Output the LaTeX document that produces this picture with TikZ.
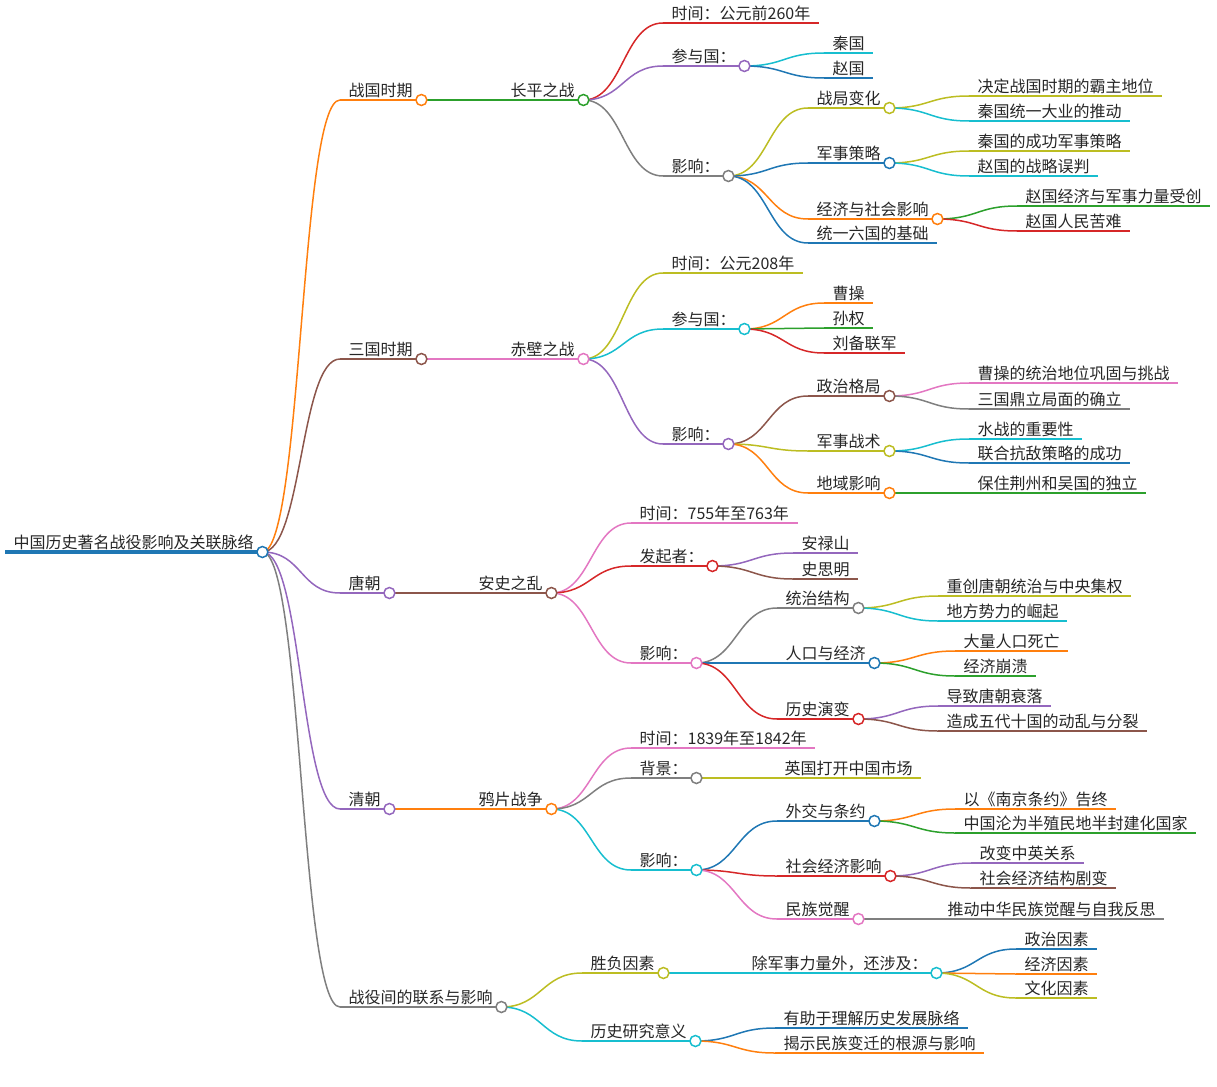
\documentclass[tikz,border=0pt]{standalone}
\usepackage{fontspec}
\newfontfamily\cjk{Noto Sans CJK SC}
\usepackage{tikz}
\definecolor{mblue}{HTML}{1F77B4}
\definecolor{morange}{HTML}{FF7F0E}
\definecolor{mgreen}{HTML}{2CA02C}
\definecolor{mred}{HTML}{D62728}
\definecolor{mpurple}{HTML}{9467BD}
\definecolor{mbrown}{HTML}{8C564B}
\definecolor{mpink}{HTML}{E377C2}
\definecolor{mgray}{HTML}{7F7F7F}
\definecolor{molive}{HTML}{BCBD22}
\definecolor{mcyan}{HTML}{17BECF}
\tikzset{topic/.style={anchor=south west,inner xsep=8.5pt,inner ysep=1.5pt,text height=12pt,text depth=2pt,
  font=\cjk\fontsize{16}{16}\selectfont,text=black!85,
  append after command={(\tikzlastnode.south west) edge[draw=#1,line width=1.5pt] (\tikzlastnode.south east)}}}
\tikzset{knob/.style={circle,draw=#1,fill=white,line width=1.5pt,minimum size=11pt,inner sep=0pt}}
\tikzset{link/.style={draw=#1,line width=1.5pt,to path={.. controls +(40,0) and +(-40,0) .. (\tikztotarget)}}}

\begin{document}
\begin{tikzpicture}[x=1pt,y=-1pt]
\useasboundingbox (0,0) rectangle (1217,1086);

% Root
\node[topic=mblue] (root) at (5,552) {中国历史著名战役影响及关联脉络};
\path[draw=mblue,line width=3.5pt] (root.south west) -- (root.south east);

% Periods
\node[topic=morange] (zg) at (340,100) {战国时期};
\node[topic=mbrown] (sg) at (340,359) {三国时期};
\node[topic=mpurple] (tc) at (340,593) {唐朝};
\node[topic=mpurple] (qc) at (340,809) {清朝};
\node[topic=mgray] (lx) at (340,1007) {战役间的联系与影响};

% Battles
\node[topic=mgreen] (cp) at (502,100) {长平之战};
\node[topic=mpink] (cb) at (502,359) {赤壁之战};
\node[topic=mbrown] (as) at (470,593) {安史之乱};
\node[topic=morange] (yp) at (470,809) {鸦片战争};
\node[topic=molive] (sf) at (582,973) {胜负因素};
\node[topic=mcyan] (yj) at (582,1041) {历史研究意义};

% Changping
\node[topic=mred] (cpa) at (663,23) {时间：公元前260年};
\node[topic=mpurple] (cpb) at (663,66) {参与国：};
\node[topic=mgray] (cpc) at (663,176) {影响：};
\node[topic=mcyan] (cpb1) at (824,53) {秦国};
\node[topic=mblue] (cpb2) at (824,78) {赵国};
\node[topic=molive] (cpc1) at (808,108) {战局变化};
\node[topic=mblue] (cpc2) at (808,163) {军事策略};
\node[topic=morange] (cpc3) at (808,219) {经济与社会影响};
\node[topic=mblue] (cpc4) at (808,243) {统一六国的基础};
\node[topic=molive] (cpc11) at (969,96) {决定战国时期的霸主地位};
\node[topic=mcyan] (cpc12) at (969,121) {秦国统一大业的推动};
\node[topic=molive] (cpc21) at (969,151) {秦国的成功军事策略};
\node[topic=mcyan] (cpc22) at (969,176) {赵国的战略误判};
\node[topic=mgreen] (cpc31) at (1017,206) {赵国经济与军事力量受创};
\node[topic=mred] (cpc32) at (1017,231) {赵国人民苦难};

% Chibi
\node[topic=molive] (cba) at (663,273) {时间：公元208年};
\node[topic=mcyan] (cbb) at (663,329) {参与国：};
\node[topic=mpurple] (cbc) at (663,444) {影响：};
\node[topic=morange] (cbb1) at (824,303) {曹操};
\node[topic=mgreen] (cbb2) at (824,328) {孙权};
\node[topic=mred] (cbb3) at (824,353) {刘备联军};
\node[topic=mbrown] (cbc1) at (808,396) {政治格局};
\node[topic=molive] (cbc2) at (808,451) {军事战术};
\node[topic=morange] (cbc3) at (808,493) {地域影响};
\node[topic=mpink] (cbc11) at (969,383) {曹操的统治地位巩固与挑战};
\node[topic=mgray] (cbc12) at (969,409) {三国鼎立局面的确立};
\node[topic=mcyan] (cbc21) at (969,439) {水战的重要性};
\node[topic=mblue] (cbc22) at (969,463) {联合抗敌策略的成功};
\node[topic=mgreen] (cbc31) at (969,493) {保住荆州和吴国的独立};

% An Shi
\node[topic=mpink] (asa) at (631,523) {时间：755年至763年};
\node[topic=mred] (asb) at (631,566) {发起者：};
\node[topic=mpink] (asc) at (631,663) {影响：};
\node[topic=mpurple] (asb1) at (793,553) {安禄山};
\node[topic=mbrown] (asb2) at (793,579) {史思明};
\node[topic=mgray] (asc1) at (777,608) {统治结构};
\node[topic=mblue] (asc2) at (777,663) {人口与经济};
\node[topic=mred] (asc3) at (777,719) {历史演变};
\node[topic=molive] (asc11) at (938,596) {重创唐朝统治与中央集权};
\node[topic=mcyan] (asc12) at (938,621) {地方势力的崛起};
\node[topic=morange] (asc21) at (955,651) {大量人口死亡};
\node[topic=mgreen] (asc22) at (955,676) {经济崩溃};
\node[topic=mpurple] (asc31) at (938,706) {导致唐朝衰落};
\node[topic=mbrown] (asc32) at (938,731) {造成五代十国的动乱与分裂};

% Opium war
\node[topic=mpink] (ypa) at (631,748) {时间：1839年至1842年};
\node[topic=mgray] (ypb) at (631,778) {背景：};
\node[topic=mcyan] (ypc) at (631,870) {影响：};
\node[topic=molive] (ypb1) at (776,778) {英国打开中国市场};
\node[topic=mblue] (ypc1) at (777,821) {外交与条约};
\node[topic=mred] (ypc2) at (777,876) {社会经济影响};
\node[topic=mpink] (ypc3) at (777,919) {民族觉醒};
\node[topic=morange] (ypc11) at (955,809) {以《南京条约》告终};
\node[topic=mgreen] (ypc12) at (955,833) {中国沦为半殖民地半封建化国家};
\node[topic=mpurple] (ypc21) at (971,863) {改变中英关系};
\node[topic=mbrown] (ypc22) at (971,888) {社会经济结构剧变};
\node[topic=mgray] (ypc31) at (939,919) {推动中华民族觉醒与自我反思};

% Links
\node[topic=mcyan] (sfa) at (743,973) {除军事力量外，还涉及：};
\node[topic=mblue] (sfa1) at (1016,949) {政治因素};
\node[topic=morange] (sfa2) at (1016,974) {经济因素};
\node[topic=molive] (sfa3) at (1016,998) {文化因素};
\node[topic=mblue] (yj1) at (775,1028) {有助于理解历史发展脉络};
\node[topic=morange] (yj2) at (775,1053) {揭示民族变迁的根源与影响};

% Draw branches from root
\path[link=morange] (root.south east) to (zg.south west);
\path[link=mbrown] (root.south east) to (sg.south west);
\path[link=mpurple] (root.south east) to (tc.south west);
\path[link=mpurple] (root.south east) to (qc.south west);
\path[link=mgray] (root.south east) to (lx.south west);

\path[link=mgreen] (zg.south east) to (cp.south west);
\path[link=mpink] (sg.south east) to (cb.south west);
\path[link=mbrown] (tc.south east) to (as.south west);
\path[link=morange] (qc.south east) to (yp.south west);
\path[link=molive] (lx.south east) to (sf.south west);
\path[link=mcyan] (lx.south east) to (yj.south west);

% Draw branches of Changping
\path[link=mred] (cp.south east) to (cpa.south west);
\path[link=mpurple] (cp.south east) to (cpb.south west);
\path[link=mgray] (cp.south east) to (cpc.south west);
\path[link=mcyan] (cpb.south east) to (cpb1.south west);
\path[link=mblue] (cpb.south east) to (cpb2.south west);
\path[link=molive] (cpc.south east) to (cpc1.south west);
\path[link=mblue] (cpc.south east) to (cpc2.south west);
\path[link=morange] (cpc.south east) to (cpc3.south west);
\path[link=mblue] (cpc.south east) to (cpc4.south west);
\path[link=molive] (cpc1.south east) to (cpc11.south west);
\path[link=mcyan] (cpc1.south east) to (cpc12.south west);
\path[link=molive] (cpc2.south east) to (cpc21.south west);
\path[link=mcyan] (cpc2.south east) to (cpc22.south west);
\path[link=mgreen] (cpc3.south east) to (cpc31.south west);
\path[link=mred] (cpc3.south east) to (cpc32.south west);

% Draw branches of Chibi
\path[link=molive] (cb.south east) to (cba.south west);
\path[link=mcyan] (cb.south east) to (cbb.south west);
\path[link=mpurple] (cb.south east) to (cbc.south west);
\path[link=morange] (cbb.south east) to (cbb1.south west);
\path[link=mgreen] (cbb.south east) to (cbb2.south west);
\path[link=mred] (cbb.south east) to (cbb3.south west);
\path[link=mbrown] (cbc.south east) to (cbc1.south west);
\path[link=molive] (cbc.south east) to (cbc2.south west);
\path[link=morange] (cbc.south east) to (cbc3.south west);
\path[link=mpink] (cbc1.south east) to (cbc11.south west);
\path[link=mgray] (cbc1.south east) to (cbc12.south west);
\path[link=mcyan] (cbc2.south east) to (cbc21.south west);
\path[link=mblue] (cbc2.south east) to (cbc22.south west);
\path[link=mgreen] (cbc3.south east) to (cbc31.south west);

% Draw branches of An Shi
\path[link=mpink] (as.south east) to (asa.south west);
\path[link=mred] (as.south east) to (asb.south west);
\path[link=mpink] (as.south east) to (asc.south west);
\path[link=mpurple] (asb.south east) to (asb1.south west);
\path[link=mbrown] (asb.south east) to (asb2.south west);
\path[link=mgray] (asc.south east) to (asc1.south west);
\path[link=mblue] (asc.south east) to (asc2.south west);
\path[link=mred] (asc.south east) to (asc3.south west);
\path[link=molive] (asc1.south east) to (asc11.south west);
\path[link=mcyan] (asc1.south east) to (asc12.south west);
\path[link=morange] (asc2.south east) to (asc21.south west);
\path[link=mgreen] (asc2.south east) to (asc22.south west);
\path[link=mpurple] (asc3.south east) to (asc31.south west);
\path[link=mbrown] (asc3.south east) to (asc32.south west);

% Draw branches of Opium war
\path[link=mpink] (yp.south east) to (ypa.south west);
\path[link=mgray] (yp.south east) to (ypb.south west);
\path[link=mcyan] (yp.south east) to (ypc.south west);
\path[link=molive] (ypb.south east) to (ypb1.south west);
\path[link=mblue] (ypc.south east) to (ypc1.south west);
\path[link=mred] (ypc.south east) to (ypc2.south west);
\path[link=mpink] (ypc.south east) to (ypc3.south west);
\path[link=morange] (ypc1.south east) to (ypc11.south west);
\path[link=mgreen] (ypc1.south east) to (ypc12.south west);
\path[link=mpurple] (ypc2.south east) to (ypc21.south west);
\path[link=mbrown] (ypc2.south east) to (ypc22.south west);
\path[link=mgray] (ypc3.south east) to (ypc31.south west);

% Draw branches of links
\path[link=mcyan] (sf.south east) to (sfa.south west);
\path[link=mblue] (sfa.south east) to (sfa1.south west);
\path[link=morange] (sfa.south east) to (sfa2.south west);
\path[link=molive] (sfa.south east) to (sfa3.south west);
\path[link=mblue] (yj.south east) to (yj1.south west);
\path[link=morange] (yj.south east) to (yj2.south west);

% Knobs on inner topics
\node[knob=mblue] (root-o) at (root.south east) {};
\node[knob=morange] (zg-o) at (zg.south east) {};
\node[knob=mbrown] (sg-o) at (sg.south east) {};
\node[knob=mpurple] (tc-o) at (tc.south east) {};
\node[knob=mpurple] (qc-o) at (qc.south east) {};
\node[knob=mgray] (lx-o) at (lx.south east) {};
\node[knob=mgreen] (cp-o) at (cp.south east) {};
\node[knob=mpink] (cb-o) at (cb.south east) {};
\node[knob=mbrown] (as-o) at (as.south east) {};
\node[knob=morange] (yp-o) at (yp.south east) {};
\node[knob=molive] (sf-o) at (sf.south east) {};
\node[knob=mcyan] (yj-o) at (yj.south east) {};
\node[knob=mpurple] (cpb-o) at (cpb.south east) {};
\node[knob=mgray] (cpc-o) at (cpc.south east) {};
\node[knob=molive] (cpc1-o) at (cpc1.south east) {};
\node[knob=mblue] (cpc2-o) at (cpc2.south east) {};
\node[knob=morange] (cpc3-o) at (cpc3.south east) {};
\node[knob=mcyan] (cbb-o) at (cbb.south east) {};
\node[knob=mpurple] (cbc-o) at (cbc.south east) {};
\node[knob=mbrown] (cbc1-o) at (cbc1.south east) {};
\node[knob=molive] (cbc2-o) at (cbc2.south east) {};
\node[knob=morange] (cbc3-o) at (cbc3.south east) {};
\node[knob=mred] (asb-o) at (asb.south east) {};
\node[knob=mpink] (asc-o) at (asc.south east) {};
\node[knob=mgray] (asc1-o) at (asc1.south east) {};
\node[knob=mblue] (asc2-o) at (asc2.south east) {};
\node[knob=mred] (asc3-o) at (asc3.south east) {};
\node[knob=mgray] (ypb-o) at (ypb.south east) {};
\node[knob=mcyan] (ypc-o) at (ypc.south east) {};
\node[knob=mblue] (ypc1-o) at (ypc1.south east) {};
\node[knob=mred] (ypc2-o) at (ypc2.south east) {};
\node[knob=mpink] (ypc3-o) at (ypc3.south east) {};
\node[knob=mcyan] (sfa-o) at (sfa.south east) {};

\end{tikzpicture}
\end{document}
